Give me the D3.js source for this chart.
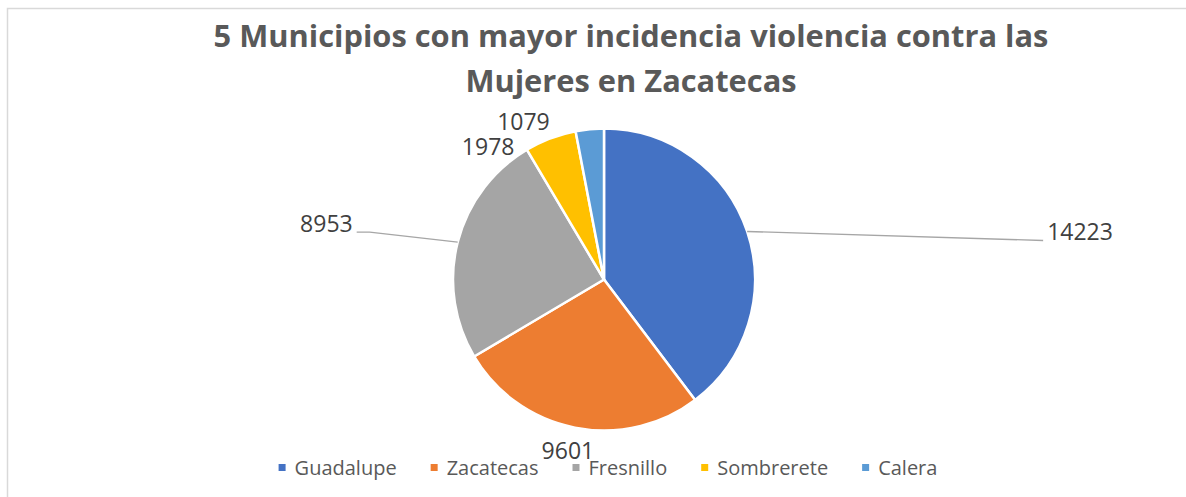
<!DOCTYPE html>
<meta charset="utf-8">
<script src="https://d3js.org/d3.v7.min.js"></script>
<style>
  body { margin: 0; background: #fff; }
  text { font-family: "Open Sans", sans-serif; }
</style>
<svg id="chart"></svg>
<script>

// data
var municipios = ["Guadalupe", "Zacatecas", "Fresnillo", "Sombrerete", "Calera"];
var casos = [14223, 9601, 8953, 1978, 1079];
var colores = ["#4472C4", "#ED7D31", "#A5A5A5", "#FFC000", "#5B9BD5"];
var titulo = ["5 Municipios con mayor incidencia violencia contra las", "Mujeres en Zacatecas"];

// where each value label sits, relative to the slice edge at its mid angle
var labelLayout = [
  { dx: 300, dy: 9, anchor: "start", leader: true, elbow: 0 },
  { dx: -7, dy: 31, anchor: "middle", leader: false },
  { dx: -105, dy: -10, anchor: "end", leader: true, elbow: 13 },
  { dx: -36, dy: 17, anchor: "end", leader: false },
  { dx: -40, dy: 1, anchor: "end", leader: false }
];

var width = 1186, height = 497;
var cx = 604, cy = 279.5, radius = 151;

var svg = d3.select("#chart")
  .attr("width", width)
  .attr("height", height);

// chart frame (right and bottom edges fall outside the picture)
svg.append("rect")
  .attr("x", 7.5).attr("y", 8.5)
  .attr("width", 1200).attr("height", 500)
  .attr("fill", "#fff")
  .attr("stroke", "#d9d9d9")
  .attr("stroke-width", 1.5);

// title, squeezed to the width of the original
var tg = svg.append("g");
tg.selectAll("text")
  .data(titulo)
  .enter().append("text")
    .attr("x", 0)
    .attr("y", function(d, i) { return 47 + i * 45; })
    .attr("text-anchor", "middle")
    .attr("font-size", 31)
    .attr("font-weight", "bold")
    .attr("fill", "#595959")
    .text(function(d) { return d; });
var natural = tg.select("text").node().getComputedTextLength();
var sx = 835 / natural;
tg.attr("transform", "translate(631,0) scale(" + sx + ",1)");

// pie
var data = municipios.map(function(m, i) { return { name: m, value: casos[i], color: colores[i] }; });
var pie = d3.pie().sort(null).value(function(d) { return d.value; });
var arcs = pie(data);
var arc = d3.arc().innerRadius(0).outerRadius(radius);

var g = svg.append("g").attr("transform", "translate(" + cx + "," + cy + ")");

g.selectAll("path.slice")
  .data(arcs)
  .enter().append("path")
    .attr("class", "slice")
    .attr("d", arc)
    .attr("fill", function(d) { return d.data.color; })
    .attr("stroke", "#fff")
    .attr("stroke-width", 2.5)
    .attr("stroke-linejoin", "round");

// value labels + leader lines
arcs.forEach(function(d, i) {
  var mid = (d.startAngle + d.endAngle) / 2;
  var ex = radius * Math.sin(mid), ey = -radius * Math.cos(mid);
  var L = labelLayout[i];
  var lx = ex + L.dx, ly = ey + L.dy;

  if (L.leader) {
    var dir = L.anchor === "start" ? -1 : 1;
    var endX = lx + dir * 4;
    var pts = [[ex, ey], [endX + dir * L.elbow, ly], [endX, ly]];
    g.append("path")
      .attr("d", d3.line()(pts))
      .attr("fill", "none")
      .attr("stroke", "#a6a6a6")
      .attr("stroke-width", 1.4);
  }

  g.append("text")
    .attr("x", lx)
    .attr("y", ly)
    .attr("text-anchor", L.anchor)
    .attr("font-size", 23)
    .attr("fill", "#404040")
    .text(d.data.value);
});

// legend
var lg = svg.append("g");
var items = lg.selectAll("g")
  .data(data)
  .enter().append("g");
items.append("rect")
  .attr("width", 7).attr("height", 7)
  .attr("y", -4)
  .attr("fill", function(d) { return d.color; });
items.append("text")
  .attr("x", 16)
  .attr("y", 7)
  .attr("font-size", 20)
  .attr("fill", "#595959")
  .text(function(d) { return d.name; });

var gap = 34;
var xpos = 0;
items.each(function() {
  var w = d3.select(this).select("text").node().getComputedTextLength();
  d3.select(this).attr("transform", "translate(" + xpos + ",0)");
  xpos += 16 + w + gap;
});
var total = xpos - gap;
lg.attr("transform", "translate(" + (608 - total / 2) + ",468)");

// the 9601 label sits on top of the legend in the original
g.raise();

</script>
